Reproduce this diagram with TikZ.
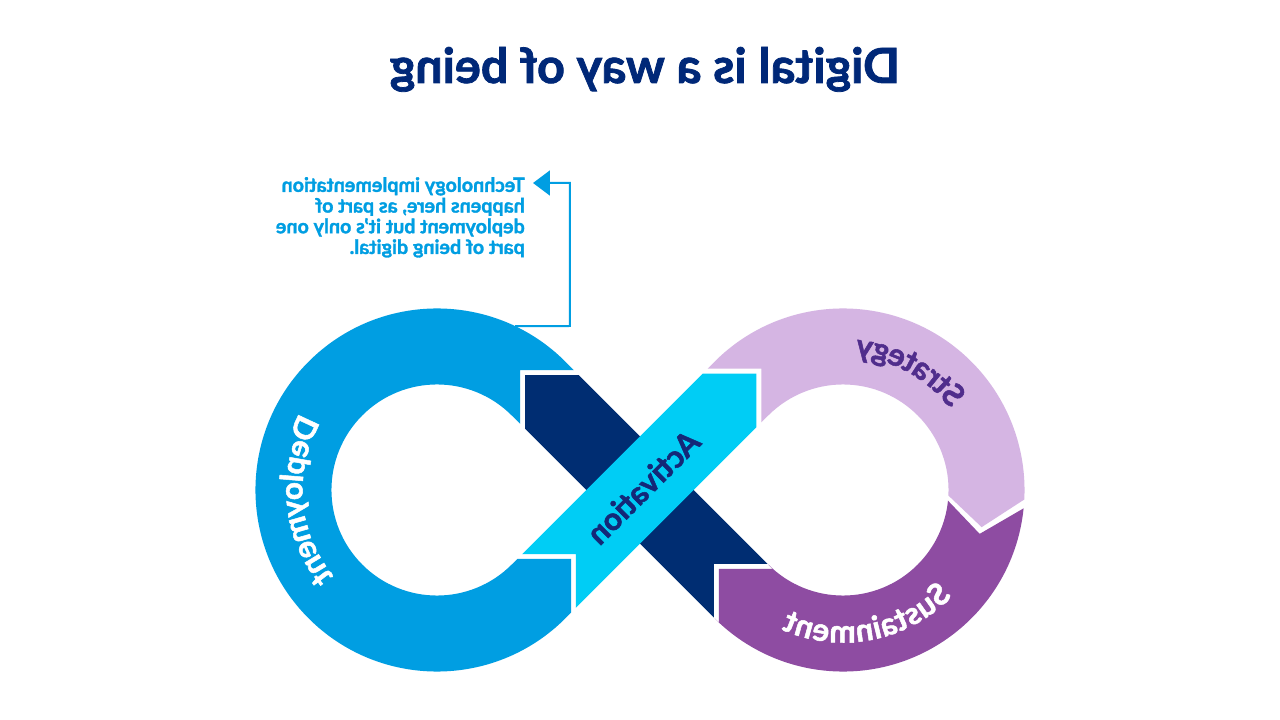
\documentclass[tikz,border=0pt]{standalone}
\usepackage{fontspec}
\setmainfont{Lato}[BoldFeatures={FakeBold=1.6}]
\usetikzlibrary{calc,arrows.meta}
\definecolor{depblue}{RGB}{0,158,226}
\definecolor{navyb}{RGB}{0,45,114}
\definecolor{cyanb}{RGB}{0,205,245}
\definecolor{strat}{RGB}{213,181,227}
\definecolor{sust}{RGB}{142,76,162}
\definecolor{strattxt}{RGB}{80,45,140}
\definecolor{titleblue}{RGB}{0,40,120}
\definecolor{acttxt}{RGB}{20,40,120}
\def\ringout{181.54}
\def\ringin{105.54}
\def\ringmidr{143.54}
\newcommand\wordfont{\fontsize{31.5}{36}\selectfont\bfseries}
% #1 centre, #2 middle angle, #3 +1 tops outward / -1 tops inward, #4 letters, #5 colour, #6 id
\newcommand\ringword[6]{%
  \xdef\rwW{0}%
  \foreach \rwch in {#4}{%
    \pgfmathsetmacro\rwtmp{\rwW+width("\rwch")}%
    \xdef\rwW{\rwtmp}%
  }%
  \xdef\rwA{0}%
  \foreach \rwch [count=\rwk] in {#4}{%
    \pgfmathsetmacro\rwc{width("\rwch")}%
    \pgfmathsetmacro\rwth{#2+(#3)*(\rwA+\rwc/2-\rwW/2)/143.5*57.2958}%
    \pgfmathsetmacro\rwrot{\rwth-(#3)*90}%
    \pgfmathsetmacro\rwrb{143.5-(#3)*9}%
    \node[text=#5, anchor=base, inner sep=0pt, rotate=\rwrot, xscale=-1] (#6-\rwk) at ($(#1)+(\rwth:\rwrb)$) {\rwch};%
    \pgfmathsetmacro\rwtmp{\rwA+\rwc}%
    \xdef\rwA{\rwtmp}%
  }%
}
\tikzset{
  note/.style={text=depblue, align=left, inner sep=0pt,
    font=\fontsize{19.7}{20.7}\selectfont\bfseries},
  titlestyle/.style={text=titleblue, inner sep=0pt,
    font=\fontsize{48.5}{52}\selectfont\bfseries},
  calloutline/.style={depblue, line width=2pt, line join=miter,
    -{Triangle[length=17pt,width=25pt]}}
}
\begin{document}
\begin{tikzpicture}[x=1pt,y=1pt]
\useasboundingbox (-640,-230) rectangle (640,490);
\fill[white] (-640,-230) rectangle (640,490);
\coordinate (L) at (-203,0);
\coordinate (R) at (203,0);
\coordinate (NL) at (-101.5,101.5);
\coordinate (NR) at (101.5,-101.5);
\coordinate (CL) at (-101.5,-101.5);
\coordinate (CR) at (101.5,101.5);
\coordinate (B1) at ($(NR)+(315:6)$);
\coordinate (B1n) at ($(NR)+(135:1)$);
\coordinate (B2) at ($(NL)+(315:19)$);
\coordinate (B2n) at ($(NL)+(315:12)$);
\coordinate (B3) at ($(CL)+(45:8)$);
\coordinate (B3n) at ($(CL)+(45:15)$);
\coordinate (B4) at ($(CR)+(225:17)$);
\coordinate (B4n) at ($(CR)+(225:10)$);

% Deployment (left ring)
\fill[depblue] ($(B2n)+(45:38)$) -- ($(L)+(45:\ringout)$)
  arc[start angle=45, end angle=315, radius=\ringout]
  -- ($(B3)+(315:38)$) -- ($(B3)+(45:38)$) -- ($(B3)+(135:38)$)
  -- ($(L)+(315:\ringin)$)
  arc[start angle=315, end angle=45, radius=\ringin]
  -- ($(B2n)+(225:38)$) -- ($(B2n)+(135:38)$) -- cycle;

% Strategy (right ring, top)
\fill[strat] ($(B4n)+(135:38)$) -- ($(R)+(135:\ringout)$)
  arc[start angle=135, end angle=-3, radius=\ringout]
  -- ($(R)+(-15:\ringmidr)$) -- ($(R)+(-3:\ringin)$)
  arc[start angle=-3, end angle=135, radius=\ringin]
  -- ($(B4n)+(315:38)$) -- ($(B4n)+(45:38)$) -- cycle;

% Sustainment (right ring, bottom)
\fill[sust] ($(R)+(-5.8:\ringout)$)
  arc[start angle=-5.8, end angle=-135, radius=\ringout]
  -- ($(B1)+(225:38)$) -- ($(B1)+(135:38)$) -- ($(B1)+(45:38)$)
  -- ($(R)+(-135:\ringin)$)
  arc[start angle=-135, end angle=-5.8, radius=\ringin]
  -- ($(R)+(-17.8:\ringmidr)$) -- cycle;

% navy band
\fill[navyb] ($(B1n)+(45:38)$) -- ($(B2)+(45:38)$) -- ($(B2)+(135:38)$)
  -- ($(B2)+(225:38)$) -- ($(B1n)+(225:38)$) -- ($(B1n)+(135:38)$) -- cycle;

% cyan band (Activation)
\fill[cyanb] ($(B3n)+(135:38)$) -- ($(B4)+(135:38)$) -- ($(B4)+(45:38)$)
  -- ($(B4)+(315:38)$) -- ($(B3n)+(315:38)$) -- ($(B3n)+(45:38)$) -- cycle;

% labels
\begingroup
\wordfont
\node[text=acttxt, inner sep=0pt, rotate=45, xscale=-1] (act) at (3,3) {Activation};
\ringword{R}{61}{1}{S,t,r,a,t,e,g,y}{strattxt}{strat}
\ringword{R}{-79}{-1}{S,u,s,t,a,i,n,m,e,n,t}{white}{sust}
\ringword{L}{185}{1}{D,e,p,l,o,y,m,e,n,t}{white}{dep}
\endgroup

% title
\node[titlestyle, anchor=base, xscale=-1] (title) at (5,407) {Digital is a way of being};

% callout
\node[note, anchor=north west, xscale=-1] (note) at (-115,313)
  {Technology implementation\\happens here, as part of\\deployment but it’s only one\\part of being digital.};
\coordinate (cl0) at ($(L)+(64.5:\ringout)$);
\coordinate (cl1) at (-70,164);
\coordinate (cl2) at (-70,307);
\coordinate (cltip) at (-107,307);
\draw[calloutline] (cl0) -- (cl1) -- (cl2) -- (cltip);
\end{tikzpicture}
\end{document}
